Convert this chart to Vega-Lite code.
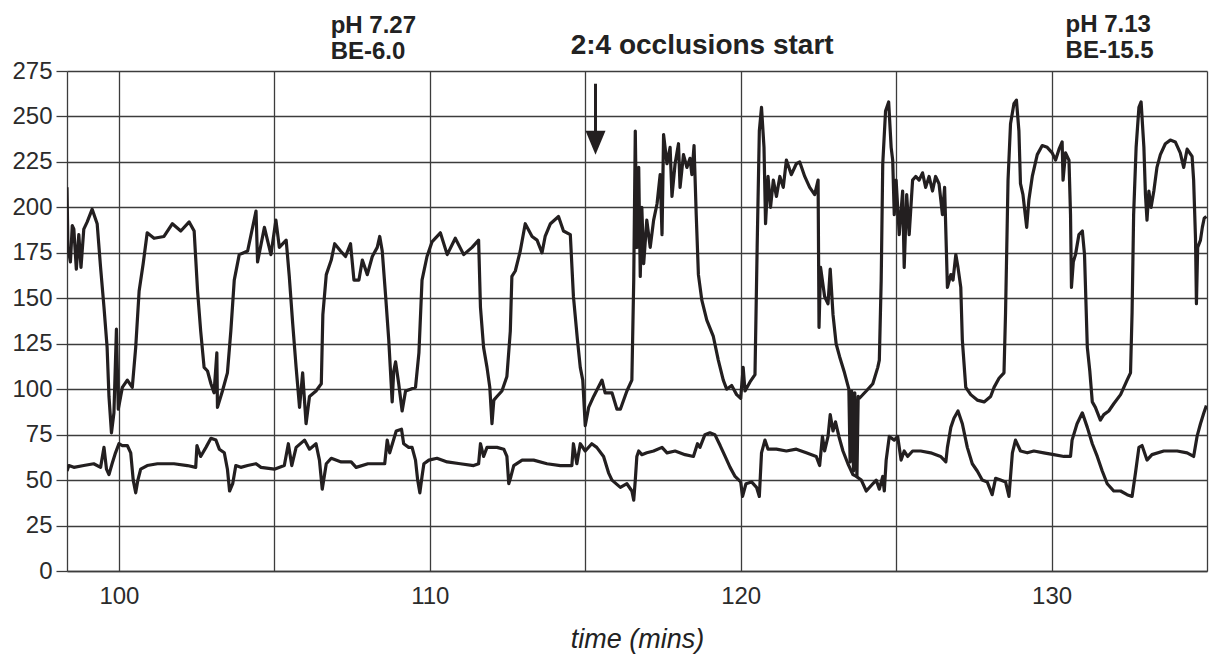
{
"$schema": "https://vega.github.io/schema/vega-lite/v6.json",
"width": 1140, "height": 500,
"autosize": {"type": "none"},
"padding": {"left": 67, "top": 71, "right": 8, "bottom": 85},
"background": "white",
"config": {"view": {"stroke": null}, "font": "Liberation Sans"},
"datasets": {
"trace": [
{"t":98.33,"v":211,"s":"P"},{"t":98.36,"v":178,"s":"P"},{"t":98.44,"v":170,"s":"P"},{"t":98.5,"v":190,"s":"P"},{"t":98.55,"v":188,"s":"P"},{"t":98.63,"v":166,"s":"P"},{"t":98.71,"v":185,"s":"P"},{"t":98.78,"v":167,"s":"P"},{"t":98.87,"v":188,"s":"P"},{"t":98.98,"v":192,"s":"P"},{"t":99.14,"v":199,"s":"P"},{"t":99.3,"v":191,"s":"P"},{"t":99.41,"v":167,"s":"P"},{"t":99.52,"v":145,"s":"P"},{"t":99.62,"v":123,"s":"P"},{"t":99.68,"v":96,"s":"P"},{"t":99.76,"v":76,"s":"P"},{"t":99.84,"v":87,"s":"P"},{"t":99.92,"v":133,"s":"P"},{"t":99.98,"v":89,"s":"P"},{"t":100.11,"v":101,"s":"P"},{"t":100.27,"v":105,"s":"P"},{"t":100.43,"v":101,"s":"P"},{"t":100.54,"v":123,"s":"P"},{"t":100.65,"v":154,"s":"P"},{"t":100.78,"v":169,"s":"P"},{"t":100.91,"v":186,"s":"P"},{"t":101.13,"v":183,"s":"P"},{"t":101.45,"v":184,"s":"P"},{"t":101.72,"v":191,"s":"P"},{"t":101.99,"v":187,"s":"P"},{"t":102.26,"v":192,"s":"P"},{"t":102.42,"v":187,"s":"P"},{"t":102.53,"v":154,"s":"P"},{"t":102.63,"v":132,"s":"P"},{"t":102.74,"v":112,"s":"P"},{"t":102.85,"v":110,"s":"P"},{"t":102.96,"v":103,"s":"P"},{"t":103.06,"v":98,"s":"P"},{"t":103.15,"v":120,"s":"P"},{"t":103.17,"v":90,"s":"P"},{"t":103.33,"v":99,"s":"P"},{"t":103.49,"v":109,"s":"P"},{"t":103.6,"v":132,"s":"P"},{"t":103.71,"v":160,"s":"P"},{"t":103.87,"v":174,"s":"P"},{"t":104.14,"v":176,"s":"P"},{"t":104.41,"v":198,"s":"P"},{"t":104.46,"v":170,"s":"P"},{"t":104.68,"v":189,"s":"P"},{"t":104.89,"v":174,"s":"P"},{"t":105.05,"v":193,"s":"P"},{"t":105.16,"v":178,"s":"P"},{"t":105.38,"v":182,"s":"P"},{"t":105.48,"v":162,"s":"P"},{"t":105.59,"v":136,"s":"P"},{"t":105.7,"v":112,"s":"P"},{"t":105.81,"v":90,"s":"P"},{"t":105.91,"v":109,"s":"P"},{"t":106.02,"v":81,"s":"P"},{"t":106.13,"v":96,"s":"P"},{"t":106.34,"v":99,"s":"P"},{"t":106.51,"v":103,"s":"P"},{"t":106.56,"v":141,"s":"P"},{"t":106.67,"v":163,"s":"P"},{"t":106.83,"v":171,"s":"P"},{"t":106.94,"v":180,"s":"P"},{"t":107.13,"v":176,"s":"P"},{"t":107.29,"v":173,"s":"P"},{"t":107.45,"v":180,"s":"P"},{"t":107.56,"v":160,"s":"P"},{"t":107.72,"v":160,"s":"P"},{"t":107.83,"v":171,"s":"P"},{"t":107.99,"v":163,"s":"P"},{"t":108.15,"v":173,"s":"P"},{"t":108.31,"v":178,"s":"P"},{"t":108.39,"v":184,"s":"P"},{"t":108.47,"v":176,"s":"P"},{"t":108.58,"v":151,"s":"P"},{"t":108.68,"v":127,"s":"P"},{"t":108.79,"v":93,"s":"P"},{"t":108.84,"v":110,"s":"P"},{"t":108.9,"v":115,"s":"P"},{"t":109.0,"v":103,"s":"P"},{"t":109.11,"v":88,"s":"P"},{"t":109.22,"v":99,"s":"P"},{"t":109.38,"v":100,"s":"P"},{"t":109.54,"v":101,"s":"P"},{"t":109.65,"v":120,"s":"P"},{"t":109.75,"v":160,"s":"P"},{"t":109.91,"v":173,"s":"P"},{"t":110.07,"v":181,"s":"P"},{"t":110.34,"v":186,"s":"P"},{"t":110.56,"v":174,"s":"P"},{"t":110.82,"v":183,"s":"P"},{"t":111.09,"v":174,"s":"P"},{"t":111.36,"v":178,"s":"P"},{"t":111.57,"v":182,"s":"P"},{"t":111.63,"v":145,"s":"P"},{"t":111.73,"v":123,"s":"P"},{"t":111.84,"v":112,"s":"P"},{"t":111.93,"v":101,"s":"P"},{"t":112.0,"v":81,"s":"P"},{"t":112.06,"v":94,"s":"P"},{"t":112.16,"v":96,"s":"P"},{"t":112.32,"v":99,"s":"P"},{"t":112.48,"v":107,"s":"P"},{"t":112.59,"v":132,"s":"P"},{"t":112.64,"v":162,"s":"P"},{"t":112.75,"v":165,"s":"P"},{"t":112.91,"v":176,"s":"P"},{"t":113.07,"v":191,"s":"P"},{"t":113.29,"v":184,"s":"P"},{"t":113.45,"v":182,"s":"P"},{"t":113.61,"v":175,"s":"P"},{"t":113.71,"v":184,"s":"P"},{"t":113.88,"v":191,"s":"P"},{"t":114.14,"v":195,"s":"P"},{"t":114.3,"v":187,"s":"P"},{"t":114.52,"v":185,"s":"P"},{"t":114.62,"v":151,"s":"P"},{"t":114.75,"v":127,"s":"P"},{"t":114.84,"v":112,"s":"P"},{"t":114.92,"v":105,"s":"P"},{"t":115.0,"v":80,"s":"P"},{"t":115.11,"v":90,"s":"P"},{"t":115.27,"v":96,"s":"P"},{"t":115.54,"v":105,"s":"P"},{"t":115.64,"v":98,"s":"P"},{"t":115.86,"v":98,"s":"P"},{"t":116.02,"v":89,"s":"P"},{"t":116.13,"v":89,"s":"P"},{"t":116.34,"v":99,"s":"P"},{"t":116.5,"v":105,"s":"P"},{"t":116.56,"v":160,"s":"P"},{"t":116.61,"v":242,"s":"P"},{"t":116.66,"v":178,"s":"P"},{"t":116.72,"v":222,"s":"P"},{"t":116.77,"v":162,"s":"P"},{"t":116.82,"v":200,"s":"P"},{"t":116.88,"v":169,"s":"P"},{"t":116.98,"v":193,"s":"P"},{"t":117.09,"v":178,"s":"P"},{"t":117.2,"v":193,"s":"P"},{"t":117.31,"v":202,"s":"P"},{"t":117.41,"v":218,"s":"P"},{"t":117.47,"v":185,"s":"P"},{"t":117.52,"v":240,"s":"P"},{"t":117.63,"v":224,"s":"P"},{"t":117.73,"v":233,"s":"P"},{"t":117.79,"v":206,"s":"P"},{"t":117.89,"v":224,"s":"P"},{"t":118.0,"v":235,"s":"P"},{"t":118.05,"v":211,"s":"P"},{"t":118.16,"v":229,"s":"P"},{"t":118.27,"v":222,"s":"P"},{"t":118.37,"v":227,"s":"P"},{"t":118.43,"v":218,"s":"P"},{"t":118.5,"v":234,"s":"P"},{"t":118.57,"v":196,"s":"P"},{"t":118.64,"v":163,"s":"P"},{"t":118.75,"v":149,"s":"P"},{"t":118.91,"v":138,"s":"P"},{"t":119.12,"v":129,"s":"P"},{"t":119.28,"v":116,"s":"P"},{"t":119.44,"v":105,"s":"P"},{"t":119.55,"v":100,"s":"P"},{"t":119.71,"v":102,"s":"P"},{"t":119.87,"v":97,"s":"P"},{"t":120.0,"v":95,"s":"P"},{"t":120.08,"v":112,"s":"P"},{"t":120.14,"v":99,"s":"P"},{"t":120.3,"v":104,"s":"P"},{"t":120.46,"v":108,"s":"P"},{"t":120.53,"v":178,"s":"P"},{"t":120.6,"v":242,"s":"P"},{"t":120.67,"v":255,"s":"P"},{"t":120.75,"v":233,"s":"P"},{"t":120.8,"v":191,"s":"P"},{"t":120.88,"v":217,"s":"P"},{"t":120.96,"v":200,"s":"P"},{"t":121.05,"v":215,"s":"P"},{"t":121.15,"v":206,"s":"P"},{"t":121.26,"v":217,"s":"P"},{"t":121.37,"v":211,"s":"P"},{"t":121.47,"v":226,"s":"P"},{"t":121.63,"v":218,"s":"P"},{"t":121.79,"v":224,"s":"P"},{"t":121.9,"v":225,"s":"P"},{"t":122.06,"v":217,"s":"P"},{"t":122.22,"v":211,"s":"P"},{"t":122.38,"v":207,"s":"P"},{"t":122.49,"v":215,"s":"P"},{"t":122.52,"v":134,"s":"P"},{"t":122.57,"v":167,"s":"P"},{"t":122.7,"v":151,"s":"P"},{"t":122.81,"v":147,"s":"P"},{"t":122.88,"v":166,"s":"P"},{"t":122.97,"v":141,"s":"P"},{"t":123.07,"v":125,"s":"P"},{"t":123.18,"v":118,"s":"P"},{"t":123.34,"v":109,"s":"P"},{"t":123.48,"v":100,"s":"P"},{"t":123.52,"v":60,"s":"P"},{"t":123.57,"v":99,"s":"P"},{"t":123.63,"v":55,"s":"P"},{"t":123.67,"v":98,"s":"P"},{"t":123.74,"v":52,"s":"P"},{"t":123.78,"v":96,"s":"P"},{"t":123.82,"v":95,"s":"P"},{"t":124.04,"v":99,"s":"P"},{"t":124.25,"v":103,"s":"P"},{"t":124.41,"v":112,"s":"P"},{"t":124.46,"v":116,"s":"P"},{"t":124.52,"v":160,"s":"P"},{"t":124.57,"v":224,"s":"P"},{"t":124.66,"v":253,"s":"P"},{"t":124.76,"v":258,"s":"P"},{"t":124.84,"v":233,"s":"P"},{"t":124.89,"v":226,"s":"P"},{"t":124.94,"v":196,"s":"P"},{"t":125.0,"v":215,"s":"P"},{"t":125.1,"v":185,"s":"P"},{"t":125.21,"v":209,"s":"P"},{"t":125.26,"v":167,"s":"P"},{"t":125.34,"v":207,"s":"P"},{"t":125.42,"v":185,"s":"P"},{"t":125.53,"v":215,"s":"P"},{"t":125.63,"v":217,"s":"P"},{"t":125.74,"v":215,"s":"P"},{"t":125.85,"v":219,"s":"P"},{"t":125.95,"v":211,"s":"P"},{"t":126.06,"v":217,"s":"P"},{"t":126.17,"v":209,"s":"P"},{"t":126.27,"v":217,"s":"P"},{"t":126.38,"v":213,"s":"P"},{"t":126.49,"v":196,"s":"P"},{"t":126.56,"v":211,"s":"P"},{"t":126.65,"v":156,"s":"P"},{"t":126.76,"v":163,"s":"P"},{"t":126.83,"v":160,"s":"P"},{"t":126.92,"v":174,"s":"P"},{"t":126.99,"v":167,"s":"P"},{"t":127.08,"v":156,"s":"P"},{"t":127.13,"v":127,"s":"P"},{"t":127.24,"v":101,"s":"P"},{"t":127.4,"v":97,"s":"P"},{"t":127.61,"v":94,"s":"P"},{"t":127.83,"v":93,"s":"P"},{"t":128.04,"v":96,"s":"P"},{"t":128.15,"v":101,"s":"P"},{"t":128.31,"v":106,"s":"P"},{"t":128.47,"v":109,"s":"P"},{"t":128.52,"v":142,"s":"P"},{"t":128.6,"v":215,"s":"P"},{"t":128.68,"v":246,"s":"P"},{"t":128.79,"v":257,"s":"P"},{"t":128.87,"v":259,"s":"P"},{"t":128.95,"v":242,"s":"P"},{"t":129.0,"v":213,"s":"P"},{"t":129.08,"v":207,"s":"P"},{"t":129.2,"v":189,"s":"P"},{"t":129.27,"v":204,"s":"P"},{"t":129.38,"v":217,"s":"P"},{"t":129.54,"v":229,"s":"P"},{"t":129.7,"v":234,"s":"P"},{"t":129.86,"v":233,"s":"P"},{"t":130.02,"v":230,"s":"P"},{"t":130.13,"v":226,"s":"P"},{"t":130.24,"v":232,"s":"P"},{"t":130.34,"v":236,"s":"P"},{"t":130.37,"v":215,"s":"P"},{"t":130.45,"v":230,"s":"P"},{"t":130.56,"v":226,"s":"P"},{"t":130.61,"v":196,"s":"P"},{"t":130.64,"v":156,"s":"P"},{"t":130.7,"v":170,"s":"P"},{"t":130.77,"v":174,"s":"P"},{"t":130.88,"v":185,"s":"P"},{"t":130.99,"v":187,"s":"P"},{"t":131.06,"v":174,"s":"P"},{"t":131.15,"v":123,"s":"P"},{"t":131.23,"v":110,"s":"P"},{"t":131.31,"v":93,"s":"P"},{"t":131.41,"v":90,"s":"P"},{"t":131.57,"v":83,"s":"P"},{"t":131.68,"v":86,"s":"P"},{"t":131.84,"v":88,"s":"P"},{"t":132.0,"v":92,"s":"P"},{"t":132.22,"v":97,"s":"P"},{"t":132.43,"v":105,"s":"P"},{"t":132.54,"v":109,"s":"P"},{"t":132.59,"v":142,"s":"P"},{"t":132.64,"v":196,"s":"P"},{"t":132.72,"v":233,"s":"P"},{"t":132.81,"v":255,"s":"P"},{"t":132.88,"v":258,"s":"P"},{"t":132.97,"v":233,"s":"P"},{"t":133.02,"v":207,"s":"P"},{"t":133.07,"v":193,"s":"P"},{"t":133.13,"v":209,"s":"P"},{"t":133.2,"v":200,"s":"P"},{"t":133.29,"v":209,"s":"P"},{"t":133.39,"v":222,"s":"P"},{"t":133.5,"v":229,"s":"P"},{"t":133.66,"v":235,"s":"P"},{"t":133.82,"v":237,"s":"P"},{"t":133.98,"v":236,"s":"P"},{"t":134.14,"v":230,"s":"P"},{"t":134.25,"v":222,"s":"P"},{"t":134.36,"v":232,"s":"P"},{"t":134.52,"v":228,"s":"P"},{"t":134.57,"v":215,"s":"P"},{"t":134.63,"v":183,"s":"P"},{"t":134.66,"v":147,"s":"P"},{"t":134.7,"v":178,"s":"P"},{"t":134.79,"v":182,"s":"P"},{"t":134.85,"v":189,"s":"P"},{"t":134.91,"v":194,"s":"P"},{"t":134.98,"v":195,"s":"P"},
{"t":98.33,"v":55,"s":"L"},{"t":98.39,"v":58,"s":"L"},{"t":98.55,"v":57,"s":"L"},{"t":98.87,"v":58,"s":"L"},{"t":99.19,"v":59,"s":"L"},{"t":99.41,"v":57,"s":"L"},{"t":99.52,"v":68,"s":"L"},{"t":99.6,"v":56,"s":"L"},{"t":99.68,"v":53,"s":"L"},{"t":99.78,"v":59,"s":"L"},{"t":99.89,"v":65,"s":"L"},{"t":100.0,"v":70,"s":"L"},{"t":100.11,"v":69,"s":"L"},{"t":100.27,"v":69,"s":"L"},{"t":100.38,"v":65,"s":"L"},{"t":100.46,"v":50,"s":"L"},{"t":100.54,"v":43,"s":"L"},{"t":100.61,"v":50,"s":"L"},{"t":100.7,"v":56,"s":"L"},{"t":100.91,"v":58,"s":"L"},{"t":101.24,"v":59,"s":"L"},{"t":101.77,"v":59,"s":"L"},{"t":102.2,"v":58,"s":"L"},{"t":102.47,"v":57,"s":"L"},{"t":102.51,"v":69,"s":"L"},{"t":102.63,"v":63,"s":"L"},{"t":102.8,"v":68,"s":"L"},{"t":102.96,"v":73,"s":"L"},{"t":103.12,"v":72,"s":"L"},{"t":103.23,"v":67,"s":"L"},{"t":103.39,"v":65,"s":"L"},{"t":103.49,"v":56,"s":"L"},{"t":103.56,"v":44,"s":"L"},{"t":103.66,"v":48,"s":"L"},{"t":103.76,"v":58,"s":"L"},{"t":103.92,"v":57,"s":"L"},{"t":104.14,"v":58,"s":"L"},{"t":104.41,"v":59,"s":"L"},{"t":104.57,"v":57,"s":"L"},{"t":105.0,"v":56,"s":"L"},{"t":105.32,"v":58,"s":"L"},{"t":105.45,"v":70,"s":"L"},{"t":105.56,"v":58,"s":"L"},{"t":105.7,"v":68,"s":"L"},{"t":105.97,"v":72,"s":"L"},{"t":106.13,"v":67,"s":"L"},{"t":106.34,"v":70,"s":"L"},{"t":106.45,"v":61,"s":"L"},{"t":106.54,"v":45,"s":"L"},{"t":106.67,"v":59,"s":"L"},{"t":106.83,"v":62,"s":"L"},{"t":107.15,"v":60,"s":"L"},{"t":107.47,"v":60,"s":"L"},{"t":107.63,"v":57,"s":"L"},{"t":108.01,"v":59,"s":"L"},{"t":108.55,"v":59,"s":"L"},{"t":108.63,"v":72,"s":"L"},{"t":108.71,"v":65,"s":"L"},{"t":108.92,"v":77,"s":"L"},{"t":109.09,"v":78,"s":"L"},{"t":109.16,"v":70,"s":"L"},{"t":109.32,"v":68,"s":"L"},{"t":109.43,"v":68,"s":"L"},{"t":109.54,"v":61,"s":"L"},{"t":109.61,"v":50,"s":"L"},{"t":109.68,"v":43,"s":"L"},{"t":109.75,"v":52,"s":"L"},{"t":109.81,"v":59,"s":"L"},{"t":109.97,"v":61,"s":"L"},{"t":110.23,"v":62,"s":"L"},{"t":110.56,"v":60,"s":"L"},{"t":110.98,"v":59,"s":"L"},{"t":111.41,"v":58,"s":"L"},{"t":111.57,"v":59,"s":"L"},{"t":111.63,"v":70,"s":"L"},{"t":111.73,"v":63,"s":"L"},{"t":111.84,"v":68,"s":"L"},{"t":112.0,"v":68,"s":"L"},{"t":112.16,"v":68,"s":"L"},{"t":112.38,"v":67,"s":"L"},{"t":112.48,"v":63,"s":"L"},{"t":112.54,"v":48,"s":"L"},{"t":112.61,"v":52,"s":"L"},{"t":112.7,"v":58,"s":"L"},{"t":112.97,"v":61,"s":"L"},{"t":113.34,"v":61,"s":"L"},{"t":113.77,"v":59,"s":"L"},{"t":114.2,"v":58,"s":"L"},{"t":114.57,"v":58,"s":"L"},{"t":114.62,"v":70,"s":"L"},{"t":114.73,"v":59,"s":"L"},{"t":114.84,"v":70,"s":"L"},{"t":115.0,"v":66,"s":"L"},{"t":115.21,"v":70,"s":"L"},{"t":115.37,"v":68,"s":"L"},{"t":115.59,"v":63,"s":"L"},{"t":115.75,"v":54,"s":"L"},{"t":115.86,"v":50,"s":"L"},{"t":116.13,"v":46,"s":"L"},{"t":116.34,"v":48,"s":"L"},{"t":116.5,"v":44,"s":"L"},{"t":116.56,"v":39,"s":"L"},{"t":116.61,"v":50,"s":"L"},{"t":116.66,"v":63,"s":"L"},{"t":116.72,"v":66,"s":"L"},{"t":116.82,"v":64,"s":"L"},{"t":116.98,"v":65,"s":"L"},{"t":117.2,"v":66,"s":"L"},{"t":117.47,"v":68,"s":"L"},{"t":117.63,"v":65,"s":"L"},{"t":117.89,"v":66,"s":"L"},{"t":118.21,"v":64,"s":"L"},{"t":118.48,"v":63,"s":"L"},{"t":118.61,"v":70,"s":"L"},{"t":118.69,"v":68,"s":"L"},{"t":118.85,"v":75,"s":"L"},{"t":119.01,"v":76,"s":"L"},{"t":119.17,"v":75,"s":"L"},{"t":119.34,"v":69,"s":"L"},{"t":119.5,"v":63,"s":"L"},{"t":119.66,"v":57,"s":"L"},{"t":119.82,"v":52,"s":"L"},{"t":120.0,"v":49,"s":"L"},{"t":120.06,"v":41,"s":"L"},{"t":120.17,"v":48,"s":"L"},{"t":120.35,"v":49,"s":"L"},{"t":120.51,"v":46,"s":"L"},{"t":120.6,"v":41,"s":"L"},{"t":120.67,"v":65,"s":"L"},{"t":120.78,"v":72,"s":"L"},{"t":120.88,"v":67,"s":"L"},{"t":121.15,"v":67,"s":"L"},{"t":121.47,"v":66,"s":"L"},{"t":121.79,"v":67,"s":"L"},{"t":122.11,"v":65,"s":"L"},{"t":122.43,"v":63,"s":"L"},{"t":122.54,"v":58,"s":"L"},{"t":122.63,"v":74,"s":"L"},{"t":122.7,"v":66,"s":"L"},{"t":122.81,"v":74,"s":"L"},{"t":122.88,"v":86,"s":"L"},{"t":122.97,"v":77,"s":"L"},{"t":123.05,"v":82,"s":"L"},{"t":123.16,"v":74,"s":"L"},{"t":123.29,"v":66,"s":"L"},{"t":123.45,"v":59,"s":"L"},{"t":123.61,"v":53,"s":"L"},{"t":123.72,"v":52,"s":"L"},{"t":123.88,"v":50,"s":"L"},{"t":124.04,"v":44,"s":"L"},{"t":124.2,"v":47,"s":"L"},{"t":124.36,"v":50,"s":"L"},{"t":124.46,"v":45,"s":"L"},{"t":124.57,"v":52,"s":"L"},{"t":124.62,"v":44,"s":"L"},{"t":124.68,"v":61,"s":"L"},{"t":124.78,"v":74,"s":"L"},{"t":124.94,"v":72,"s":"L"},{"t":125.05,"v":74,"s":"L"},{"t":125.16,"v":61,"s":"L"},{"t":125.26,"v":66,"s":"L"},{"t":125.37,"v":63,"s":"L"},{"t":125.53,"v":66,"s":"L"},{"t":125.79,"v":66,"s":"L"},{"t":126.11,"v":65,"s":"L"},{"t":126.43,"v":63,"s":"L"},{"t":126.6,"v":60,"s":"L"},{"t":126.65,"v":68,"s":"L"},{"t":126.76,"v":79,"s":"L"},{"t":126.86,"v":84,"s":"L"},{"t":126.99,"v":88,"s":"L"},{"t":127.13,"v":81,"s":"L"},{"t":127.29,"v":68,"s":"L"},{"t":127.45,"v":59,"s":"L"},{"t":127.61,"v":55,"s":"L"},{"t":127.77,"v":50,"s":"L"},{"t":127.93,"v":49,"s":"L"},{"t":128.09,"v":42,"s":"L"},{"t":128.2,"v":51,"s":"L"},{"t":128.36,"v":50,"s":"L"},{"t":128.52,"v":49,"s":"L"},{"t":128.63,"v":41,"s":"L"},{"t":128.74,"v":65,"s":"L"},{"t":128.84,"v":72,"s":"L"},{"t":129.0,"v":66,"s":"L"},{"t":129.22,"v":65,"s":"L"},{"t":129.43,"v":66,"s":"L"},{"t":129.75,"v":65,"s":"L"},{"t":130.07,"v":64,"s":"L"},{"t":130.4,"v":63,"s":"L"},{"t":130.61,"v":63,"s":"L"},{"t":130.66,"v":72,"s":"L"},{"t":130.82,"v":81,"s":"L"},{"t":130.99,"v":87,"s":"L"},{"t":131.15,"v":79,"s":"L"},{"t":131.31,"v":70,"s":"L"},{"t":131.47,"v":63,"s":"L"},{"t":131.63,"v":55,"s":"L"},{"t":131.79,"v":48,"s":"L"},{"t":132.0,"v":44,"s":"L"},{"t":132.22,"v":44,"s":"L"},{"t":132.43,"v":42,"s":"L"},{"t":132.59,"v":41,"s":"L"},{"t":132.7,"v":54,"s":"L"},{"t":132.81,"v":68,"s":"L"},{"t":132.91,"v":69,"s":"L"},{"t":133.07,"v":61,"s":"L"},{"t":133.23,"v":64,"s":"L"},{"t":133.61,"v":66,"s":"L"},{"t":134.04,"v":66,"s":"L"},{"t":134.36,"v":65,"s":"L"},{"t":134.57,"v":63,"s":"L"},{"t":134.68,"v":74,"s":"L"},{"t":134.79,"v":81,"s":"L"},{"t":134.9,"v":87,"s":"L"},{"t":134.98,"v":91,"s":"L"}
],
"notes": [
{"t":106.81,"v":295.8,"label":"pH 7.27"},{"t":106.81,"v":281.8,"label":"BE-6.0"},
{"t":130.45,"v":296.5,"label":"pH 7.13"},{"t":130.45,"v":282.4,"label":"BE-15.5"}
],
"headline": [{"t":118.76,"v":284.6,"label":"2:4 occlusions start"}],
"arrow": [{"t":115.33,"v":268,"v2":240,"tip":235.6}]
},
"layer": [
{
"data": {"name": "trace"},
"mark": {"type": "line", "color": "#231f20", "strokeWidth": 3.2, "strokeJoin": "round", "clip": true},
"encoding": {
"x": {"field": "t", "type": "quantitative",
"scale": {"domain": [98.33, 135], "nice": false, "zero": false},
"axis": {"values": [100,105,110,115,120,125,130,135],
"labelExpr": "datum.value % 10 === 0 ? datum.label : ''",
"labelOverlap": false, "labelFlush": false,
"title": "time (mins)", "titleFont": "Liberation Sans", "titleFontStyle": "italic", "titleFontWeight": "normal", "titleFontSize": 27, "titleColor": "#222222", "titlePadding": 18,
"grid": true, "gridColor": "#3c3c3c", "gridWidth": 1.3, "gridOpacity": 1,
"domain": true, "domainColor": "#3c3c3c", "domainWidth": 1.3,
"ticks": false, "tickSize": 0,
"labelFont": "Liberation Sans", "labelFontSize": 24, "labelColor": "#2b2b2b", "labelPadding": 13}},
"y": {"field": "v", "type": "quantitative",
"scale": {"domain": [0, 275], "nice": false, "zero": true},
"axis": {"values": [0,25,50,75,100,125,150,175,200,225,250,275],
"title": null, "labelOverlap": false, "labelFlush": false,
"grid": true, "gridColor": "#3c3c3c", "gridWidth": 1.3, "gridOpacity": 1,
"domain": true, "domainColor": "#3c3c3c", "domainWidth": 1.3,
"ticks": true, "tickSize": 11, "tickColor": "#3c3c3c", "tickWidth": 1.3,
"labelFont": "Liberation Sans", "labelFontSize": 24, "labelColor": "#2b2b2b", "labelPadding": 4}},
"detail": {"field": "s"}
}
},
{
"data": {"name": "arrow"},
"mark": {"type": "rule", "color": "#231f20", "strokeWidth": 3},
"encoding": {
"x": {"field": "t", "type": "quantitative"},
"y": {"field": "v", "type": "quantitative"},
"y2": {"field": "v2"}
}
},
{
"data": {"name": "arrow"},
"mark": {"type": "point", "shape": "M-1,-1.2L1,-1.2L0,1.2Z", "filled": true, "size": 400, "color": "#231f20", "opacity": 1, "strokeWidth": 0},
"encoding": {
"x": {"field": "t", "type": "quantitative"},
"y": {"field": "tip", "type": "quantitative"}
}
},
{
"data": {"name": "notes"},
"mark": {"type": "text", "align": "left", "baseline": "alphabetic", "font": "Liberation Sans", "fontWeight": "bold", "fontSize": 24, "color": "#222222"},
"encoding": {
"x": {"field": "t", "type": "quantitative"},
"y": {"field": "v", "type": "quantitative"},
"text": {"field": "label"}
}
},
{
"data": {"name": "headline"},
"mark": {"type": "text", "align": "center", "baseline": "alphabetic", "font": "Liberation Sans", "fontWeight": "bold", "fontSize": 28, "color": "#222222"},
"encoding": {
"x": {"field": "t", "type": "quantitative"},
"y": {"field": "v", "type": "quantitative"},
"text": {"field": "label"}
}
}
]
}
